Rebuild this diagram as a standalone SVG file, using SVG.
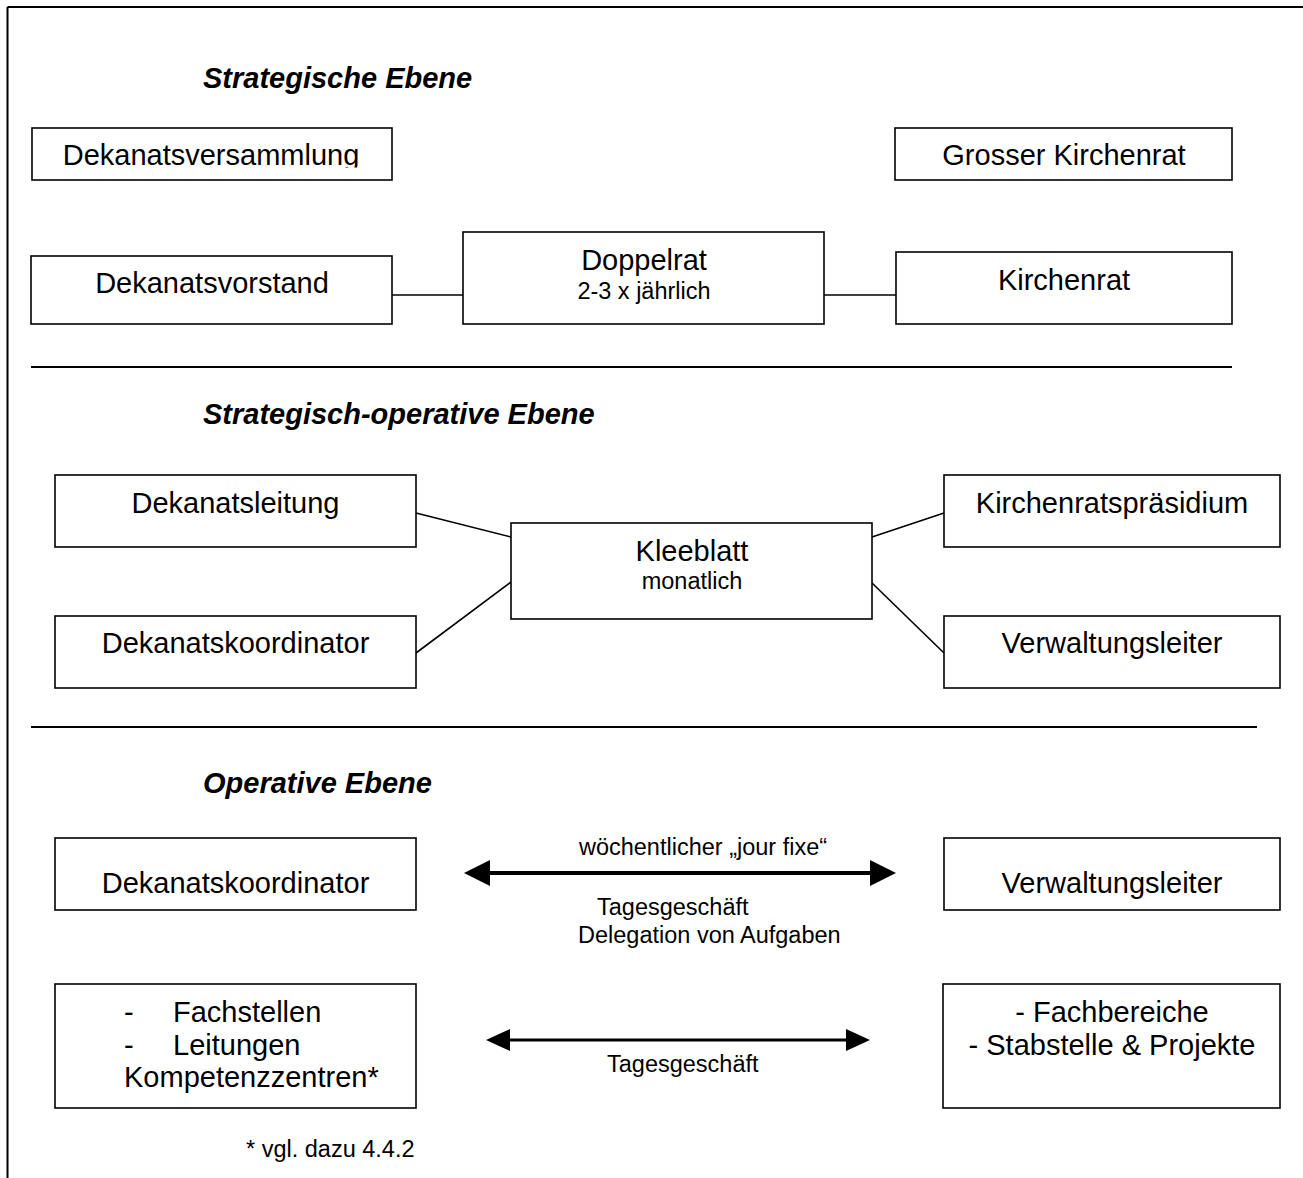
<svg xmlns="http://www.w3.org/2000/svg" width="1303" height="1178" viewBox="0 0 1303 1178">
<style>
.box{fill:#fff;stroke:#000;stroke-width:1.6}
.t{font-family:"Liberation Sans",Arial,sans-serif;font-size:29px;fill:#000}
.s{font-family:"Liberation Sans",Arial,sans-serif;font-size:23.5px;fill:#000}
.h{font-family:"Liberation Sans",Arial,sans-serif;font-size:29px;font-weight:bold;font-style:italic;fill:#000}
.c{text-anchor:middle}
.ln{stroke:#000;stroke-width:1.6;fill:none}
.sep{stroke:#000;stroke-width:1.8}
</style>
<defs>
<clipPath id="clipDV"><rect x="32" y="128" width="360" height="39.5"/></clipPath>
</defs>
<rect width="1303" height="1178" fill="#fff"/>
<g id="frame">
<line x1="7.5" y1="7" x2="1303" y2="7" stroke="#000" stroke-width="2"/>
<line x1="7.5" y1="7" x2="7.5" y2="1178" stroke="#000" stroke-width="2"/>
</g>
<g id="titles">
<text class="h" x="203" y="88">Strategische Ebene</text>
<text class="h" x="203" y="424">Strategisch-operative Ebene</text>
<text class="h" x="203" y="793">Operative Ebene</text>
</g>
<g id="separators">
<line class="sep" x1="31" y1="367" x2="1232" y2="367"/>
<line class="sep" x1="31" y1="727" x2="1257" y2="727"/>
</g>
<g id="connectors">
<line class="ln" x1="392" y1="295" x2="463" y2="295"/>
<line class="ln" x1="824" y1="295" x2="896" y2="295"/>
<line class="ln" x1="416" y1="513" x2="511" y2="537"/>
<line class="ln" x1="416" y1="653" x2="511" y2="582"/>
<line class="ln" x1="872" y1="537" x2="944" y2="513"/>
<line class="ln" x1="872" y1="583" x2="944" y2="653"/>
<g id="arrow1">
<line x1="486" y1="873" x2="874" y2="873" stroke="#000" stroke-width="4"/>
<polygon points="464,873 490,860 490,886"/>
<polygon points="896,873 870,860 870,886"/>
</g>
<g id="arrow2">
<line x1="506" y1="1040" x2="850" y2="1040" stroke="#000" stroke-width="3"/>
<polygon points="486,1040 510,1029 510,1051"/>
<polygon points="870,1040 846,1029 846,1051"/>
</g>
</g>
<g id="labels">
<text class="s c" x="703" y="855">wöchentlicher „jour fixe“</text>
<text class="s" x="597" y="915">Tagesgeschäft</text>
<text class="s" x="578" y="943">Delegation von Aufgaben</text>
<text class="s" x="607" y="1072">Tagesgeschäft</text>
<text class="s" x="246" y="1157">* vgl. dazu 4.4.2</text>
</g>
<g id="dekanatsversammlung">
<rect class="box" x="32" y="128" width="360" height="52"/>
<text class="t c" x="211" y="165" clip-path="url(#clipDV)">Dekanatsversammlung</text>
</g>
<g id="grosser-kirchenrat">
<rect class="box" x="895" y="128" width="337" height="52"/>
<text class="t c" x="1064" y="165">Grosser Kirchenrat</text>
</g>
<g id="dekanatsvorstand">
<rect class="box" x="31" y="256" width="361" height="68"/>
<text class="t c" x="212" y="293">Dekanatsvorstand</text>
</g>
<g id="doppelrat">
<rect class="box" x="463" y="232" width="361" height="92"/>
<text class="t c" x="644" y="270">Doppelrat</text>
<text class="s c" x="644" y="299">2-3 x jährlich</text>
</g>
<g id="kirchenrat">
<rect class="box" x="896" y="252" width="336" height="72"/>
<text class="t c" x="1064" y="290">Kirchenrat</text>
</g>
<g id="dekanatsleitung">
<rect class="box" x="55" y="475" width="361" height="72"/>
<text class="t c" x="235.5" y="513">Dekanatsleitung</text>
</g>
<g id="kleeblatt">
<rect class="box" x="511" y="523" width="361" height="96"/>
<text class="t c" x="692" y="561">Kleeblatt</text>
<text class="s c" x="692" y="589">monatlich</text>
</g>
<g id="kirchenratspraesidium">
<rect class="box" x="944" y="475" width="336" height="72"/>
<text class="t c" x="1112" y="513">Kirchenratspräsidium</text>
</g>
<g id="dekanatskoordinator-1">
<rect class="box" x="55" y="616" width="361" height="72"/>
<text class="t c" x="235.5" y="653">Dekanatskoordinator</text>
</g>
<g id="verwaltungsleiter-1">
<rect class="box" x="944" y="616" width="336" height="72"/>
<text class="t c" x="1112" y="653">Verwaltungsleiter</text>
</g>
<g id="dekanatskoordinator-2">
<rect class="box" x="55" y="838" width="361" height="72"/>
<text class="t c" x="235.5" y="893">Dekanatskoordinator</text>
</g>
<g id="verwaltungsleiter-2">
<rect class="box" x="944" y="838" width="336" height="72"/>
<text class="t c" x="1112" y="893">Verwaltungsleiter</text>
</g>
<g id="fachstellen">
<rect class="box" x="55" y="984" width="361" height="124"/>
<text class="t" x="124" y="1022">-</text>
<text class="t" x="173" y="1022">Fachstellen</text>
<text class="t" x="124" y="1055">-</text>
<text class="t" x="173" y="1055">Leitungen</text>
<text class="t" x="124" y="1087">Kompetenzzentren*</text>
</g>
<g id="fachbereiche">
<rect class="box" x="943" y="984" width="337" height="124"/>
<text class="t c" x="1112" y="1022">- Fachbereiche</text>
<text class="t c" x="1112" y="1055">- Stabstelle &amp; Projekte</text>
</g>
</svg>
